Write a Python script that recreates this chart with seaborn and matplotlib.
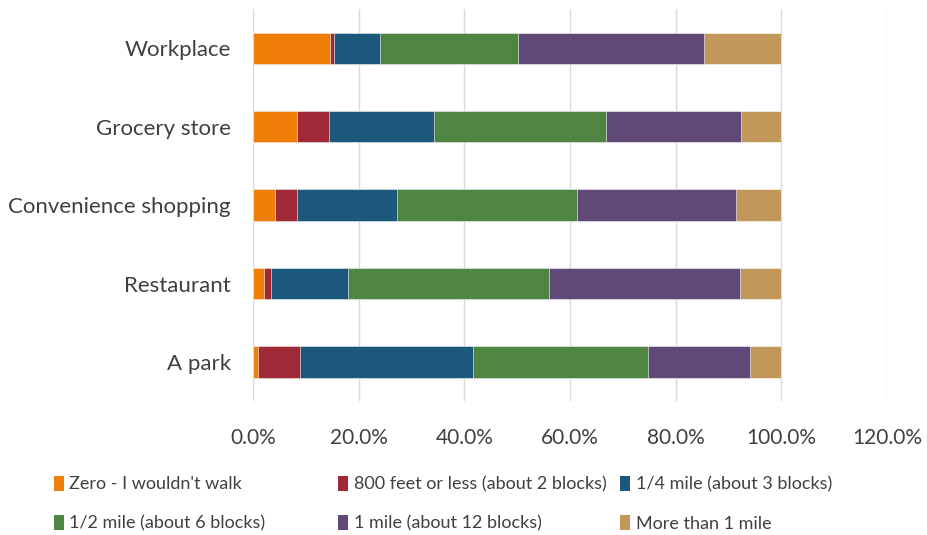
import matplotlib
matplotlib.use("Agg")
import matplotlib.pyplot as plt
from matplotlib.patches import Patch
from matplotlib.ticker import PercentFormatter
import numpy as np
import pandas as pd
import seaborn as sns

# willingness to walk, share of answers per destination
destinations = ["Workplace", "Grocery store", "Convenience shopping", "Restaurant", "A park"]
answers = ["Zero - I wouldn't walk", "800 feet or less (about 2 blocks)", "1/4 mile (about 3 blocks)",
           "1/2 mile (about 6 blocks)", "1 mile (about 12 blocks)", "More than 1 mile"]
zero = [0.146, 0.083, 0.041, 0.020, 0.010]
feet800 = [0.008, 0.060, 0.043, 0.014, 0.078]
quarter_mile = [0.086, 0.199, 0.189, 0.145, 0.329]
half_mile = [0.261, 0.325, 0.340, 0.381, 0.330]
one_mile = [0.353, 0.256, 0.301, 0.362, 0.194]
more_than_mile = [0.146, 0.077, 0.086, 0.078, 0.059]

colors = ["#F07F09", "#9F2936", "#1B587C", "#4E8542", "#604878", "#C19859"]

sns.set_theme(style="white")
plt.rcParams['font.family'] = ['Lato', 'DejaVu Sans']

df = pd.DataFrame({"destination": destinations})
series = [zero, feet800, quarter_mile, half_mile, one_mile, more_than_mile]
cum = np.cumsum(np.array(series), axis=0)

fig = plt.figure(figsize=(9.27, 5.35), dpi=100)
ax = fig.add_axes([0.273, 0.25, 0.684, 0.733])

# draw the cumulative totals from the longest to the shortest so they stack
for i in range(len(answers) - 1, -1, -1):
    df["value"] = cum[i]
    sns.barplot(data=df, y="destination", x="value", color=colors[i], width=0.4,
                orient="h", ax=ax, saturation=1, edgecolor="white", linewidth=0.4)

ax.set_xlim(0, 1.2)
ax.set_xticks(np.arange(0, 1.21, 0.2))
ax.xaxis.set_major_formatter(PercentFormatter(xmax=1, decimals=1))
ax.grid(axis="x", color="#d9d9d9", linewidth=1)
ax.set_axisbelow(True)
for s in ax.spines.values():
    s.set_visible(False)
ax.set_xlabel('')
ax.set_ylabel('')
ax.tick_params(axis="y", length=0, pad=16, labelsize=16, labelcolor="#404040")
ax.tick_params(axis="x", length=0, pad=19, labelsize=15, labelcolor="#404040")

handles = [Patch(facecolor=c, edgecolor="none") for c in colors]
xpos = [0.058, 0.365, 0.669]
for k in range(3):
    fig.legend([handles[k], handles[k + 3]], [answers[k], answers[k + 3]],
               loc="upper left", bbox_to_anchor=(xpos[k], 0.111), ncol=1, frameon=False,
               fontsize=13, handlelength=0.55, handleheight=0.9, handletextpad=0.3,
               labelspacing=1.26, labelcolor="#404040", borderaxespad=0, borderpad=0)

plt.savefig("out.png", dpi=100)
